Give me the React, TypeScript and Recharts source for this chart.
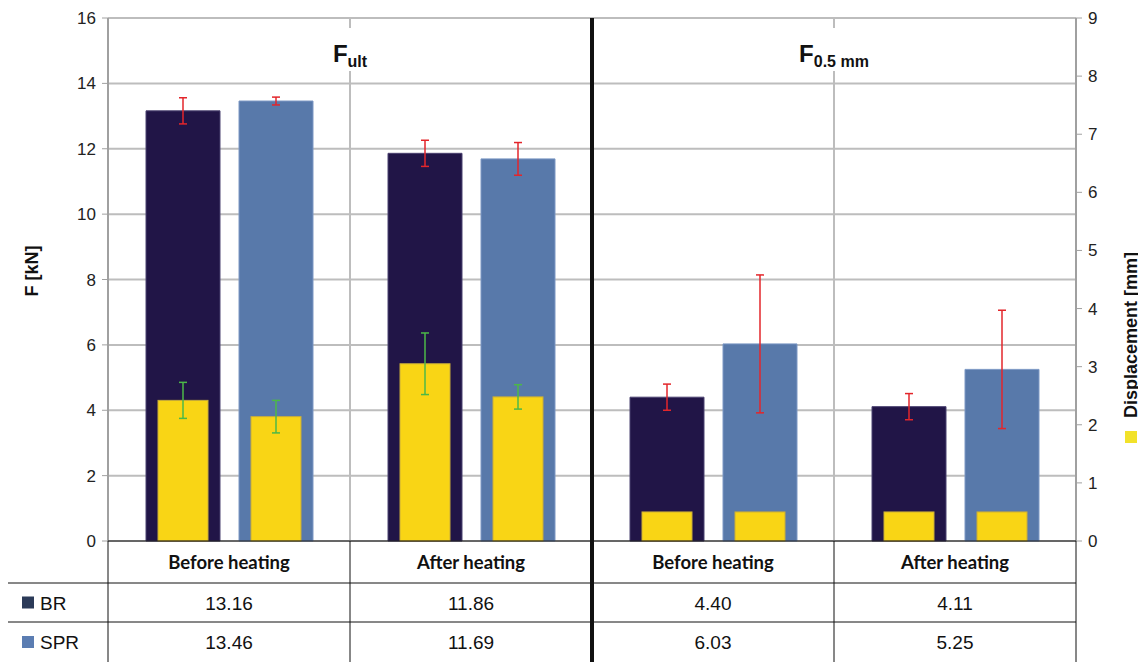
import React from 'react'
import { BarChart, Bar, XAxis, YAxis, CartesianGrid, ErrorBar } from 'recharts'

// categories and values
const categories = ['Before heating', 'After heating', 'Before heating', 'After heating']
const brForce = [13.16, 11.86, 4.4, 4.11]
const sprForce = [13.46, 11.69, 6.03, 5.25]
const brForceErr = [0.4, 0.4, 0.4, 0.4]
const sprForceErr = [0.12, 0.5, 2.11, 1.81]
const brDisp = [2.42, 3.05, 0.5, 0.5]
const sprDisp = [2.14, 2.48, 0.5, 0.5]
const brDispErr = [0.31, 0.53, null, null]
const sprDispErr = [0.28, 0.21, null, null]
const forceTicks = [0, 2, 4, 6, 8, 10, 12, 14, 16]
const dispTicks = [0, 1, 2, 3, 4, 5, 6, 7, 8, 9]
const seriesNames = ['BR', 'SPR']
const groupTitles = [
  { main: 'F', sub: 'ult' },
  { main: 'F', sub: '0.5 mm' },
]

const W = 1138
const H = 654
const PLOT_L = 100
const PLOT_R = 1068
const PLOT_T = 10
const PLOT_B = 533
const COL_W = (PLOT_R - PLOT_L) / categories.length
const ROW1 = 575
const ROW2 = 614

const BR_COLOR = '#211547'
const SPR_COLOR = '#5879aa'
const YELLOW = '#f9d515'
const GRID = '#bdbdbd'

const rows = categories.map((cat, i) => ({
  cat,
  br: brForce[i],
  spr: sprForce[i],
  brErr: brForceErr[i],
  sprErr: sprForceErr[i],
  brD: brDisp[i],
  sprD: sprDisp[i],
  brDErr: brDispErr[i],
  sprDErr: sprDispErr[i],
}))

const YellowBar = (props: any) => {
  const { x, y, width, height } = props
  if (!height || height <= 0) return null
  const w = 50
  return (
    <rect x={x + (width - w) / 2} y={y} width={w} height={height} fill={YELLOW} stroke="#c9ad3a" strokeWidth={1} />
  )
}

const HeaderTick = (props: any) => {
  const { x, payload } = props
  return (
    <text x={x} y={PLOT_B + 28} textAnchor="middle" fontFamily="Lato, 'Open Sans', sans-serif" fontWeight={700} fontSize={18.5} fill="#111">
      {payload.value}
    </text>
  )
}

const font = "'Liberation Sans', Arial, sans-serif"

function Overlay() {
  const values = [brForce, sprForce]
  const keyColors = ['#2b3a58', '#5b7db2']
  return (
    <svg width={W} height={H} style={{ position: 'absolute', left: 0, top: 0, pointerEvents: 'none' }}>
      {/* vertical grid lines between the before/after groups */}
      {[1, 3].map(i => (
        <line key={i} x1={PLOT_L + COL_W * i} x2={PLOT_L + COL_W * i} y1={PLOT_T} y2={PLOT_B} stroke={GRID} strokeWidth={2} />
      ))}
      {/* table lines */}
      {[0, 1, 3, 4].map(i => (
        <line key={'v' + i} x1={PLOT_L + COL_W * i} x2={PLOT_L + COL_W * i} y1={PLOT_B} y2={H} stroke="#111" strokeWidth={1} />
      ))}
      <line x1={PLOT_L} x2={PLOT_R} y1={PLOT_B} y2={PLOT_B} stroke="#111" strokeWidth={1} />
      <line x1={0} x2={PLOT_R} y1={ROW1} y2={ROW1} stroke="#111" strokeWidth={1} />
      <line x1={0} x2={PLOT_R} y1={ROW2} y2={ROW2} stroke="#111" strokeWidth={1} />
      <line x1={PLOT_L + COL_W * 2} x2={PLOT_L + COL_W * 2} y1={PLOT_T} y2={H} stroke="#111" strokeWidth={4} />
      {/* series rows */}
      {seriesNames.map((name, r) => {
        const cy = r === 0 ? (ROW1 + ROW2) / 2 : (ROW2 + H) / 2
        return (
          <g key={name}>
            <rect x={14} y={cy - 6} width={12} height={12} fill={keyColors[r]} />
            <text x={32} y={cy + 7} fontFamily={font} fontSize={19} fill="#111">{name}</text>
            {values[r].map((v, i) => (
              <text key={i} x={PLOT_L + COL_W * (i + 0.5)} y={cy + 7} textAnchor="middle" fontFamily={font} fontSize={19} fill="#111">
                {v.toFixed(2)}
              </text>
            ))}
          </g>
        )
      })}
      {/* group titles */}
      {groupTitles.map((t, i) => {
        const cx = PLOT_L + COL_W * (1 + 2 * i)
        const tw = i === 0 ? 44 : 76
        return (
          <g key={i}>
            <rect x={cx - tw / 2 - 4} y={20} width={tw + 8} height={43} fill="#fff" />
            <text x={cx} y={54} textAnchor="middle" fontFamily={font} fontWeight={700} fill="#111">
              <tspan fontSize={24}>{t.main}</tspan>
              <tspan fontSize={16} dy={5}>{t.sub}</tspan>
            </text>
          </g>
        )
      })}
      {/* axis titles */}
      <text transform="translate(30,263) rotate(-90)" textAnchor="middle" fontFamily={font} fontWeight={700} fontSize={18} fill="#111">
        F [kN]
      </text>
      <text transform="translate(1129,327) rotate(-90)" textAnchor="middle" fontFamily={font} fontWeight={700} fontSize={18} fill="#111">
        Displacement [mm]
      </text>
      <rect x={1117} y={423} width={12} height={12} fill="#f2e22a" />
    </svg>
  )
}

export default function App() {
  return (
    <div style={{ position: 'relative', width: W, height: H, background: '#fff' }}>
      <BarChart
        width={W}
        height={H}
        data={rows}
        margin={{ top: PLOT_T, right: 0, bottom: H - PLOT_B - 42, left: 0 }}
        barGap={19}
      >
        <CartesianGrid xAxisId="f" yAxisId="left" vertical={false} stroke={GRID} strokeWidth={2} />
        <XAxis xAxisId="f" dataKey="cat" height={42} tick={<HeaderTick />} tickLine={false} axisLine={false} />
        <XAxis xAxisId="d" dataKey="cat" hide />
        <YAxis
          yAxisId="left"
          domain={[0, 16]}
          ticks={forceTicks}
          width={PLOT_L}
          tick={{ fontSize: 17, fill: '#222', fontFamily: font }}
          tickSize={6}
          tickMargin={6}
          axisLine={{ stroke: '#a0a0a0', strokeWidth: 2 }}
          tickLine={{ stroke: '#a0a0a0' }}
        />
        <YAxis
          yAxisId="right"
          orientation="right"
          domain={[0, 9]}
          ticks={dispTicks}
          width={W - PLOT_R}
          tick={{ fontSize: 17, fill: '#222', fontFamily: font, textAnchor: 'start' }}
          tickSize={6}
          tickMargin={6}
          axisLine={{ stroke: '#a0a0a0', strokeWidth: 2 }}
          tickLine={{ stroke: '#a0a0a0' }}
        />
        <Bar xAxisId="f" yAxisId="left" dataKey="br" name="BR" fill={BR_COLOR} stroke="#4b4270" barSize={74} isAnimationActive={false}>
          <ErrorBar dataKey="brErr" width={4} stroke="#e3262b" strokeWidth={1.5} />
        </Bar>
        <Bar xAxisId="f" yAxisId="left" dataKey="spr" name="SPR" fill={SPR_COLOR} stroke="#7c98c4" barSize={74} isAnimationActive={false}>
          <ErrorBar dataKey="sprErr" width={4} stroke="#e3262b" strokeWidth={1.5} />
        </Bar>
        <Bar xAxisId="d" yAxisId="right" dataKey="brD" shape={<YellowBar />} barSize={74} isAnimationActive={false}>
          <ErrorBar dataKey="brDErr" width={4} stroke="#4cb848" strokeWidth={1.5} />
        </Bar>
        <Bar xAxisId="d" yAxisId="right" dataKey="sprD" shape={<YellowBar />} barSize={74} isAnimationActive={false}>
          <ErrorBar dataKey="sprDErr" width={4} stroke="#4cb848" strokeWidth={1.5} />
        </Bar>
      </BarChart>
      <Overlay />
    </div>
  )
}
